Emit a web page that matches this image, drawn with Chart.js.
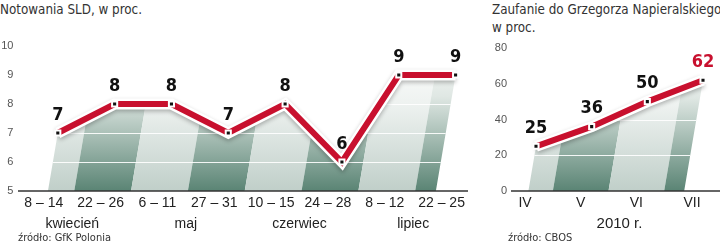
<!DOCTYPE html>
<html>
<head>
<meta charset="utf-8">
<script src="https://cdn.jsdelivr.net/npm/chart.js@4"></script>
<style>
  body { margin: 0; background: #fff; }
  #wrap { position: relative; width: 720px; height: 244px; overflow: hidden; }
  canvas { position: absolute; top: 0; }
  .title { position: absolute; top: 1px; font: 13.3px "Liberation Sans Narrow", "DejaVu Sans Condensed", sans-serif; color: #333; line-height: 18px; white-space: nowrap; }
  .src { position: absolute; top: 231px; font: 11px "Liberation Sans Narrow", "DejaVu Sans Condensed", sans-serif; color: #333; white-space: nowrap; }
</style>
</head>
<body>
<div id="wrap">
  <div class="title" style="left:0">Notowania SLD, w proc.</div>
  <div class="title" style="left:492px">Zaufanie do Grzegorza Napieralskiego<br>w proc.</div>
  <canvas id="sldChart" width="490" height="244" style="left:0"></canvas>
  <canvas id="napChart" width="232" height="244" style="left:488px"></canvas>
  <div class="src" style="left:18px">źródło: GfK Polonia</div>
  <div class="src" style="left:508px">źródło: CBOS</div>
</div>
<script>
// data
const weeks = ['8 – 14', '22 – 26', '6 – 11', '27 – 31', '10 – 15', '24 – 28', '8 – 12', '22 – 25'];
const months = ['kwiecień', 'maj', 'czerwiec', 'lipiec'];
const sldValues = [7, 8, 8, 7, 8, 6, 9, 9];
const sldTicks = [5, 6, 7, 8, 9, 10];

const napMonths = ['IV', 'V', 'VI', 'VII'];
const napValues = [25, 36, 50, 62];
const napTicks = [0, 20, 40, 60, 80];

const RED = '#c8102e';
const NARROW = '"Liberation Sans Narrow", "DejaVu Sans Condensed", sans-serif';
const SLANT = 0.17;

// slanted light/dark columns under the line, plus white grid lines
const bandsPlugin = {
  id: 'bands',
  beforeDatasetsDraw(chart, args, opts) {
    const ctx = chart.ctx;
    const pts = chart.getDatasetMeta(1).data;
    const y = chart.scales.y;
    const area = chart.chartArea;
    const base = y.getPixelForValue(y.min);
    const first = pts[0], last = pts[pts.length - 1];

    ctx.save();
    ctx.beginPath();
    ctx.moveTo(first.x, first.y);
    pts.forEach(p => ctx.lineTo(p.x, p.y));
    ctx.lineTo(last.x - SLANT * (base - last.y), base);
    ctx.lineTo(first.x - SLANT * (base - first.y), base);
    ctx.closePath();
    ctx.clip();

    const top = area.top;
    const rise = SLANT * (base - top);
    for (let i = 0; i < pts.length; i++) {
      const l = i === 0 ? area.left - 200 : (pts[i - 1].x + pts[i].x) / 2 + opts.shift;
      const r = i === pts.length - 1 ? area.right + 200 : (pts[i].x + pts[i + 1].x) / 2 + opts.shift;
      const g = ctx.createLinearGradient(0, top, 0, base);
      if (i % 2 === 1) {
        g.addColorStop(0, '#ffffff');
        g.addColorStop(0.35, '#dfe7e3');
        g.addColorStop(1, '#5a8474');
      } else {
        g.addColorStop(0, '#ffffff');
        g.addColorStop(0.4, '#eef2f0');
        g.addColorStop(1, '#c0cfc9');
      }
      ctx.fillStyle = g;
      ctx.beginPath();
      ctx.moveTo(l, base);
      ctx.lineTo(r, base);
      ctx.lineTo(r + rise, top);
      ctx.lineTo(l + rise, top);
      ctx.closePath();
      ctx.fill();
    }

    ctx.strokeStyle = 'rgba(255,255,255,0.9)';
    ctx.lineWidth = 1;
    y.ticks.forEach(t => {
      if (t.value === y.min) return;
      const py = Math.round(y.getPixelForValue(t.value)) + 0.5;
      ctx.beginPath();
      ctx.moveTo(area.left - 50, py);
      ctx.lineTo(area.right + 50, py);
      ctx.stroke();
    });
    ctx.restore();

    // baseline
    ctx.save();
    ctx.strokeStyle = '#333';
    ctx.lineWidth = 1.5;
    ctx.beginPath();
    ctx.moveTo(opts.axisFrom, base);
    ctx.lineTo(opts.axisTo, base);
    ctx.stroke();
    ctx.restore();
  },
  beforeDatasetDraw(chart, args) {
    if (args.index === 0) {
      chart.ctx.save();
      chart.ctx.shadowColor = 'rgba(0,0,0,0.28)';
      chart.ctx.shadowBlur = 4;
      chart.ctx.shadowOffsetY = 2;
    }
  },
  afterDatasetDraw(chart, args) {
    if (args.index === 0) chart.ctx.restore();
  }
};

// value labels above the points
const valuesPlugin = {
  id: 'values',
  afterDatasetsDraw(chart, args, opts) {
    const ctx = chart.ctx;
    const meta = chart.getDatasetMeta(1);
    const vals = chart.data.datasets[1].data;
    ctx.save();
    ctx.font = 'bold 18px ' + NARROW;
    ctx.textAlign = 'center';
    ctx.textBaseline = 'middle';
    meta.data.forEach((p, i) => {
      ctx.fillStyle = i === opts.highlight ? RED : '#111';
      ctx.fillText(String(vals[i]), p.x, p.y - 18);
    });
    ctx.restore();
  }
};

function datasets(values) {
  return [{
    data: values,
    borderColor: '#fff',
    borderWidth: 11,
    pointRadius: 0,
    tension: 0,
    clip: false,
    order: 1
  }, {
    data: values,
    borderColor: RED,
    borderWidth: 6,
    pointStyle: 'rect',
    pointRadius: 3.6,
    pointBackgroundColor: '#111',
    pointBorderColor: '#fff',
    pointBorderWidth: 2,
    tension: 0,
    clip: false,
    order: 0
  }];
}

const hidden = { display: false, drawTicks: false };

new Chart(document.getElementById('sldChart'), {
  type: 'line',
  data: { labels: weeks, datasets: datasets(sldValues) },
  plugins: [bandsPlugin, valuesPlugin],
  options: {
    responsive: false,
    animation: false,
    devicePixelRatio: 1,
    layout: { padding: { top: 46, right: 3, bottom: 11, left: 0 } },
    plugins: {
      legend: { display: false },
      tooltip: { enabled: false },
      bands: { shift: -12, axisFrom: 18, axisTo: 468 },
      values: { highlight: -1 }
    },
    scales: {
      x: {
        type: 'category',
        offset: true,
        grid: hidden,
        border: { display: false },
        ticks: { labelOffset: -14, padding: 4, color: '#222', autoSkip: false, maxRotation: 0,
                 font: { family: 'Liberation Sans', size: 14 } },
        afterFit: s => { s.height = 22; }
      },
      x2: {
        type: 'category',
        labels: months,
        offset: true,
        weight: 1,
        position: 'bottom',
        grid: hidden,
        border: { display: false },
        ticks: { labelOffset: -14, padding: 3, color: '#222', autoSkip: false, maxRotation: 0,
                 font: { family: 'Liberation Sans', size: 14 } },
        afterFit: s => { s.height = 20; }
      },
      y: {
        min: 5,
        max: 10,
        afterBuildTicks: s => { s.ticks = sldTicks.map(v => ({ value: v })); },
        grid: hidden,
        border: { display: false },
        ticks: { padding: 16, color: '#555', font: { family: 'Liberation Sans', size: 11 } },
        afterFit: s => { s.width = 29.4; }
      }
    }
  }
});

new Chart(document.getElementById('napChart'), {
  type: 'line',
  data: { labels: napMonths, datasets: datasets(napValues) },
  plugins: [bandsPlugin, valuesPlugin],
  options: {
    responsive: false,
    animation: false,
    devicePixelRatio: 1,
    layout: { padding: { top: 48, right: 17, bottom: 11, left: 0 } },
    plugins: {
      legend: { display: false },
      tooltip: { enabled: false },
      bands: { shift: -11, axisFrom: 23, axisTo: 232 },
      values: { highlight: napValues.length - 1 }
    },
    scales: {
      x: {
        type: 'category',
        offset: false,
        grid: hidden,
        border: { display: false },
        ticks: { labelOffset: -11, padding: 4, color: '#222', autoSkip: false, maxRotation: 0,
                 font: { family: 'Liberation Sans', size: 14 } },
        title: { display: true, text: '2010 r.', color: '#222', padding: { top: 2, bottom: 0 },
                 font: { family: 'Liberation Sans', size: 15 } },
        afterFit: s => { s.height = 42; }
      },
      y: {
        min: 0,
        max: 80,
        afterBuildTicks: s => { s.ticks = napTicks.map(v => ({ value: v })); },
        grid: hidden,
        border: { display: false },
        ticks: { padding: 29, color: '#555', font: { family: 'Liberation Sans', size: 11 } },
        afterFit: s => { s.width = 48; }
      }
    }
  }
});
</script>
</body>
</html>
